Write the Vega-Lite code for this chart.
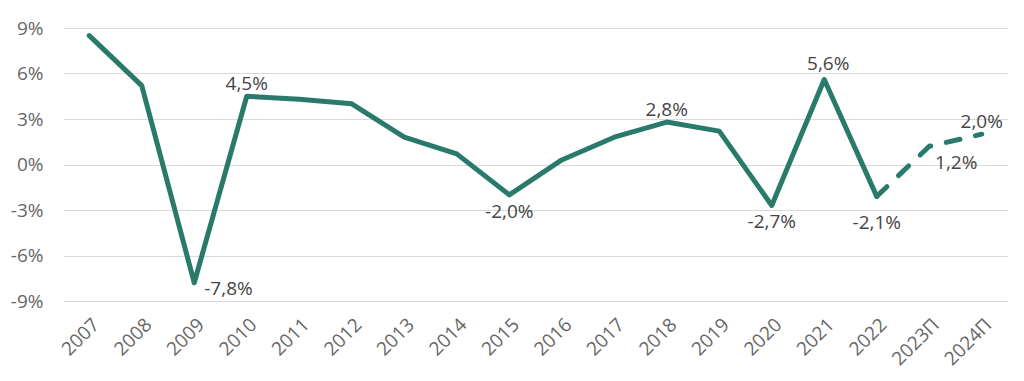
{
  "$schema": "https://vega.github.io/schema/vega-lite/v6.json",
  "autosize": "none",
  "width": 945,
  "height": 273,
  "padding": {"left": 63, "top": 28, "right": 16, "bottom": 80},
  "background": "white",
  "config": {
    "view": {"stroke": null},
    "font": "Open Sans",
    "text": {"font": "Open Sans", "fontSize": 19, "color": "#454545"}
  },
  "data": {
    "values": [
      {"year": "2007", "value": 8.5, "label": "8,5%"},
      {"year": "2008", "value": 5.2, "label": "5,2%"},
      {"year": "2009", "value": -7.8, "label": "-7,8%"},
      {"year": "2010", "value": 4.5, "label": "4,5%"},
      {"year": "2011", "value": 4.3, "label": "4,3%"},
      {"year": "2012", "value": 4.0, "label": "4,0%"},
      {"year": "2013", "value": 1.8, "label": "1,8%"},
      {"year": "2014", "value": 0.7, "label": "0,7%"},
      {"year": "2015", "value": -2.0, "label": "-2,0%"},
      {"year": "2016", "value": 0.3, "label": "0,3%"},
      {"year": "2017", "value": 1.8, "label": "1,8%"},
      {"year": "2018", "value": 2.8, "label": "2,8%"},
      {"year": "2019", "value": 2.2, "label": "2,2%"},
      {"year": "2020", "value": -2.7, "label": "-2,7%"},
      {"year": "2021", "value": 5.6, "label": "5,6%"},
      {"year": "2022", "value": -2.1, "label": "-2,1%"},
      {"year": "2023П", "value": 1.2, "label": "1,2%"},
      {"year": "2024П", "value": 2.0, "label": "2,0%"}
    ]
  },
  "encoding": {
    "x": {
      "field": "year", "type": "ordinal", "sort": null,
      "scale": {"type": "point", "padding": 0.5},
      "axis": {
        "title": null, "domain": false, "ticks": false, "grid": false,
        "labelAngle": -45, "labelAlign": "right", "labelBaseline": "top",
        "labelFontSize": 19, "labelColor": "#666666", "labelFont": "Open Sans",
        "labelPadding": 14
      }
    },
    "y": {
      "field": "value", "type": "quantitative",
      "scale": {"domain": [-9, 9], "nice": false, "zero": false},
      "axis": {
        "title": null, "domain": false, "ticks": false,
        "values": [-9, -6, -3, 0, 3, 6, 9],
        "labelExpr": "datum.value + '%'",
        "labelFontSize": 19, "labelColor": "#666666", "labelFont": "Open Sans",
        "labelPadding": 20,
        "gridColor": "#d9d9d9", "gridWidth": 1
      }
    }
  },
  "layer": [
    {
      "transform": [{"filter": {"not": {"field": "year", "oneOf": ["2023П", "2024П"]}}}],
      "mark": {"type": "line", "color": "#2a7a6c", "strokeWidth": 5, "strokeCap": "round", "strokeJoin": "round"}
    },
    {
      "transform": [{"filter": {"field": "year", "oneOf": ["2022", "2023П", "2024П"]}}],
      "mark": {"type": "line", "color": "#2a7a6c", "strokeWidth": 5, "strokeCap": "round", "strokeJoin": "round", "strokeDash": [14, 16]}
    },
    {
      "transform": [{"filter": {"field": "year", "oneOf": ["2010", "2018", "2024П"]}}],
      "mark": {"type": "text", "baseline": "alphabetic", "dy": -6},
      "encoding": {"text": {"field": "label"}}
    },
    {
      "transform": [{"filter": {"field": "year", "equal": "2021"}}],
      "mark": {"type": "text", "baseline": "alphabetic", "dy": -10, "dx": 4},
      "encoding": {"text": {"field": "label"}}
    },
    {
      "transform": [{"filter": {"field": "year", "oneOf": ["2015", "2020"]}}],
      "mark": {"type": "text", "baseline": "alphabetic", "dy": 23},
      "encoding": {"text": {"field": "label"}}
    },
    {
      "transform": [{"filter": {"field": "year", "equal": "2022"}}],
      "mark": {"type": "text", "baseline": "alphabetic", "dy": 33},
      "encoding": {"text": {"field": "label"}}
    },
    {
      "transform": [{"filter": {"field": "year", "equal": "2023П"}}],
      "mark": {"type": "text", "baseline": "alphabetic", "dy": 23, "dx": 27},
      "encoding": {"text": {"field": "label"}}
    },
    {
      "transform": [{"filter": {"field": "year", "equal": "2009"}}],
      "mark": {"type": "text", "baseline": "alphabetic", "align": "left", "dy": 12, "dx": 10},
      "encoding": {"text": {"field": "label"}}
    }
  ]
}
